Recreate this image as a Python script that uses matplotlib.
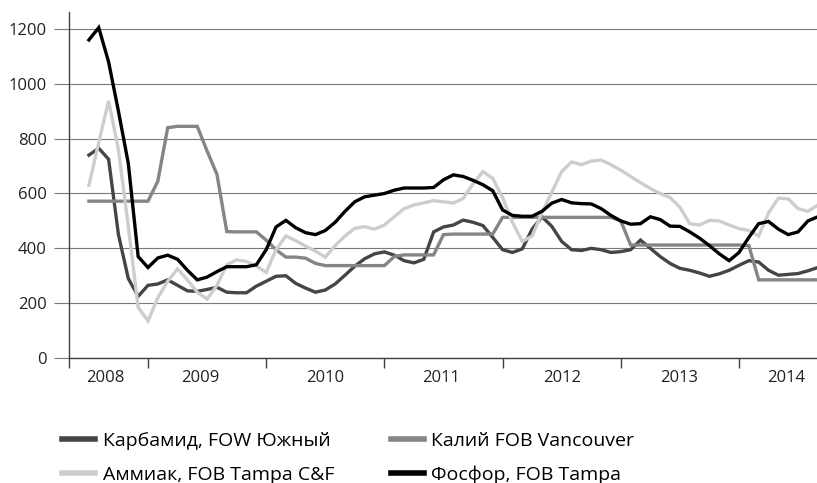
import numpy as np
import matplotlib
matplotlib.use("Agg")
import matplotlib.pyplot as plt
from matplotlib.lines import Line2D

plt.rcParams['font.family'] = ['Open Sans', 'DejaVu Sans']

# month index (0 = Jan 2008); data runs Jul 2008 .. Sep 2014
months = np.arange(6, 81)

carbamid = [740, 765, 725, 450, 290, 225, 265, 270, 285, 265, 245, 243, 250, 258, 240,
            238, 238, 262, 280, 298, 300, 272, 255, 240, 248, 270, 302, 335, 362, 380,
            387, 375, 355, 347, 360, 460, 478, 485, 503, 495, 483, 440, 395, 385, 398,
            470, 515, 480, 425, 395, 392, 400, 395, 385, 388, 395, 430, 400, 370, 345,
            327, 320, 310, 298, 307, 320, 338, 355, 350, 320, 302, 305, 308, 318, 330]

kaliy = [572, 572, 572, 572, 572, 572, 572, 645, 840, 845, 845, 845, 755, 670, 461,
         460, 460, 460, 430, 395, 368, 368, 364, 345, 337, 337, 337, 337, 337, 337,
         337, 370, 376, 376, 376, 376, 450, 452, 452, 452, 452, 452, 513, 513, 513,
         513, 513, 513, 513, 513, 513, 513, 513, 513, 500, 412, 412, 412, 412, 412,
         412, 412, 412, 412, 412, 412, 412, 410, 285, 285, 285, 285, 285, 285, 285]

ammiak = [630, 786, 938, 760, 480, 185, 135, 220, 280, 325, 285, 240, 215, 265, 340,
          358, 352, 335, 312, 395, 445, 428, 408, 390, 368, 410, 445, 473, 479, 470,
          485, 515, 545, 558, 566, 574, 570, 565, 582, 635, 680, 655, 585, 495, 425,
          445, 530, 605, 680, 715, 705, 718, 722, 705, 685, 662, 640, 618, 600, 585,
          550, 490, 485, 502, 500, 485, 472, 465, 445, 530, 583, 580, 545, 535, 558]

fosfor = [1160, 1205, 1080, 900, 710, 370, 330, 365, 375, 360, 320, 285, 295, 315, 333,
          333, 333, 340, 395, 478, 502, 475, 457, 450, 465, 495, 535, 570, 588, 594,
          600, 612, 620, 620, 620, 622, 650, 668, 662, 648, 632, 610, 540, 520, 517,
          517, 535, 565, 578, 566, 563, 562, 545, 520, 500, 488, 490, 515, 505, 481,
          480, 460, 437, 410, 380, 355, 385, 440, 490, 498, 470, 450, 460, 500, 515]

series_names = ['Карбамид, FOW Южный', 'Калий FOB Vancouver',
                'Аммиак, FOB Tampa C&F', 'Фосфор, FOB Tampa']
series_colors = ['#454545', '#858585', '#cdcdcd', '#000000']

year_labels = ['2008', '2009', '2010', '2011', '2012', '2013', '2014']
year_label_pos = [7.67, 17.31, 29.94, 41.78, 54.05, 65.88, 76.75]
year_ticks = [3.98, 12, 24, 36, 48, 60, 72]
y_ticks = [0, 200, 400, 600, 800, 1000, 1200]

W, H = 817, 483
fig = plt.figure(figsize=(W / 100, H / 100), dpi=100)
ax = fig.add_axes([69 / W, (H - 358) / H, (W - 69) / W, (358 - 12) / H])

data = [carbamid, kaliy, ammiak, fosfor]
for vals, name, col in zip(data, series_names, series_colors):
    ax.plot(months, vals, color=col, lw=2.4, solid_joinstyle='miter', label=name)

ax.set_xlim(3.98, 79.92)
ax.set_ylim(0, 1262)

ax.set_yticks(y_ticks)
ax.set_yticklabels([str(v) for v in y_ticks])
ax.yaxis.grid(True, color='#7a7a7a', lw=0.8)
ax.set_axisbelow(True)
ax.tick_params(axis='y', length=11, width=0.8, color='#7a7a7a', pad=5,
               labelsize=12, labelcolor='#222222')

ax.set_xticks(year_ticks)
ax.set_xticklabels([''] * len(year_ticks))
ax.set_xticks(year_label_pos, minor=True)
ax.set_xticklabels(year_labels, minor=True)
ax.tick_params(axis='x', which='major', length=7.5, width=1.0, color='#404040')
ax.tick_params(axis='x', which='minor', length=0, pad=9, labelsize=12,
               labelcolor='#222222')

for s in ['top', 'right']:
    ax.spines[s].set_visible(False)
ax.spines['left'].set_color('#404040')
ax.spines['bottom'].set_color('#404040')
ax.spines['left'].set_linewidth(1.0)
ax.spines['bottom'].set_linewidth(1.0)

handles = [Line2D([], [], color=c, lw=4) for c in series_colors]
order = [0, 2, 1, 3]
fig.legend([handles[i] for i in order], [series_names[i] for i in order],
           ncol=2, loc='upper left', bbox_to_anchor=(62 / W, 1 - 432 / H),
           frameon=False, fontsize=14, handlelength=1.7, handletextpad=0.4,
           columnspacing=2.9, labelspacing=0.8, borderpad=0, borderaxespad=0)

fig.savefig('out.png', dpi=100)
